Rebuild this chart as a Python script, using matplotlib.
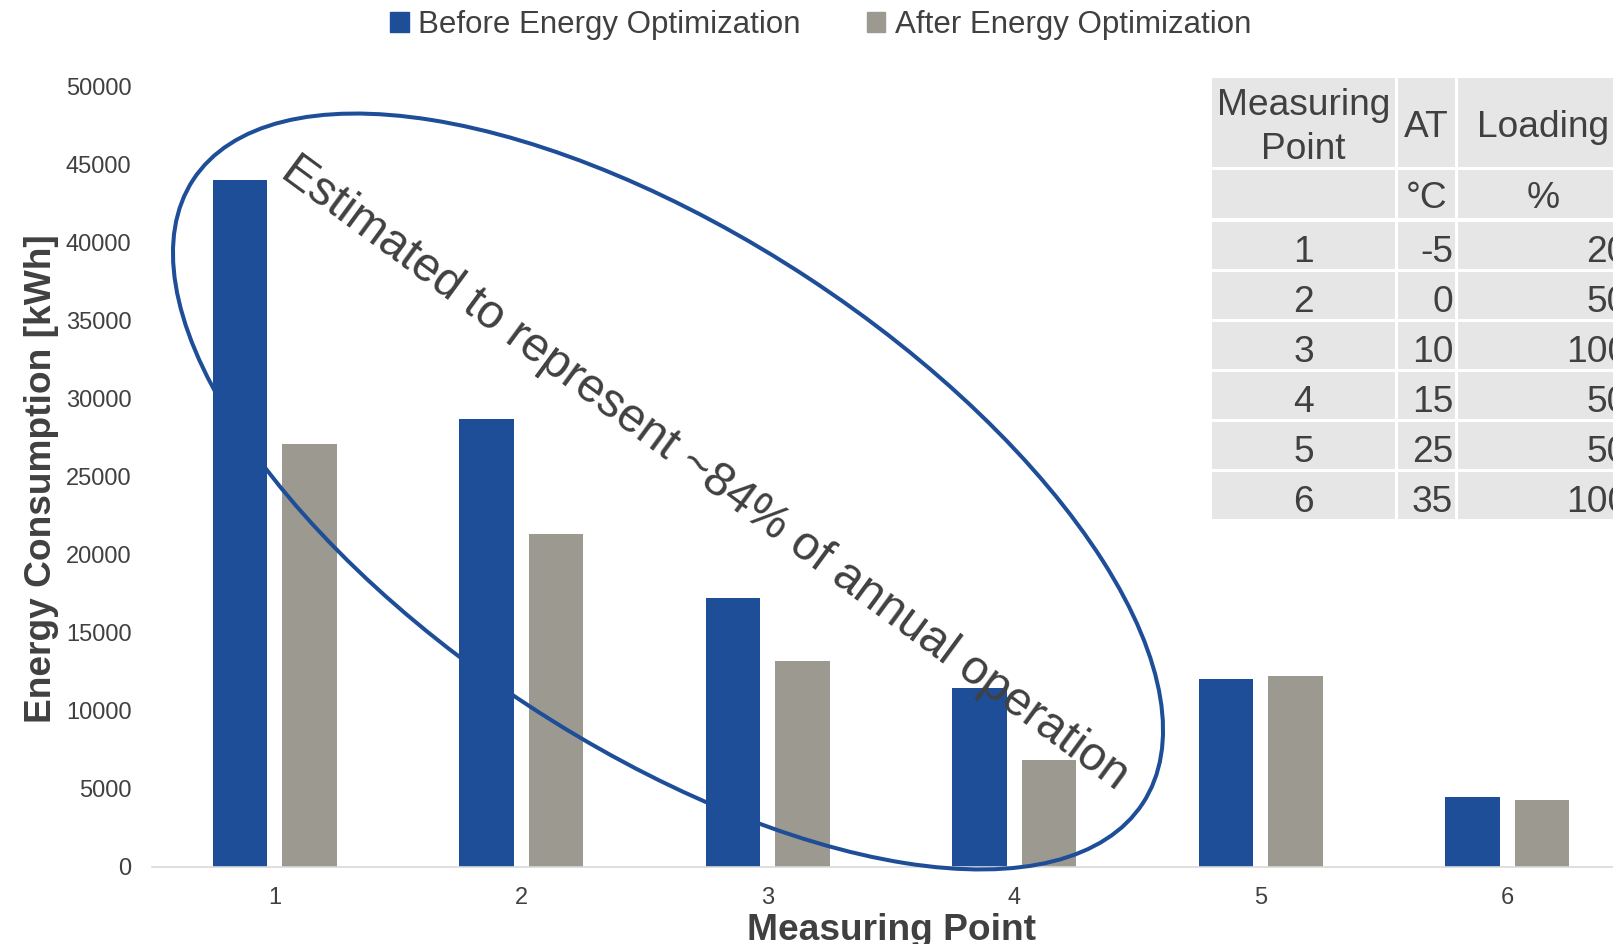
import numpy as np
import matplotlib
matplotlib.use("Agg")
import matplotlib.pyplot as plt
from matplotlib.patches import Ellipse, Rectangle, Patch
from matplotlib.transforms import IdentityTransform

# energy per measuring point [kWh]
measuring_points = [1, 2, 3, 4, 5, 6]
before_opt = [44000, 28700, 17250, 11450, 12050, 4450]
after_opt = [27100, 21300, 13200, 6850, 12200, 4270]

# operating conditions table
table_header = ["Measuring\nPoint", "AT", "Loading"]
table_units = ["", "°C", "%"]
ambient_temp = [-5, 0, 10, 15, 25, 35]
loading_pct = [20, 50, 100, 50, 50, 100]

BLUE = "#1F4E99"
GREY = "#9C9990"
TEXT = "#404040"
CELL = "#E6E6E6"

W, H = 1613, 944

plt.rcParams['font.family'] = ['Liberation Sans', 'DejaVu Sans']


def px(x, y):
    # pixel position (from top-left) -> figure fraction
    return x / W, 1 - y / H


def draw_table(fig):
    col_edges = [(1212, 1395), (1398.3, 1455), (1458, 1640)]
    row_edges = [(78.3, 166.7), (170, 218.3)]
    for i in range(len(measuring_points)):
        top = 221.7 + 50 * i
        row_edges.append((top, top + 47.3))

    for (x0, x1) in col_edges:
        for (y0, y1) in row_edges:
            fx, fy = px(x0, y1)
            fig.add_artist(Rectangle((fx, fy), (x1 - x0) / W, (y1 - y0) / H,
                                     transform=fig.transFigure, color=CELL,
                                     lw=0, zorder=1))

    kw = dict(fontsize=26.7, color=TEXT, va='baseline', zorder=2)
    fig.text(*px(1303.5, 115), "Measuring", ha='center', **kw)
    fig.text(*px(1303.5, 159.3), "Point", ha='center', **kw)
    fig.text(*px(1426.7, 136.7), table_header[1], ha='center', **kw)
    fig.text(*px(1543, 136.7), table_header[2], ha='center', **kw)
    fig.text(*px(1426.7, 208.3), table_units[1], ha='center', **kw)
    fig.text(*px(1543, 208.3), table_units[2], ha='center', **kw)

    for i, (mp, at, ld) in enumerate(zip(measuring_points, ambient_temp, loading_pct)):
        yb = 262.3 + 50 * i
        fig.text(*px(1303.5, yb), str(mp), ha='center', **kw)
        fig.text(*px(1453.3, yb), str(at), ha='right', **kw)
        fig.text(*px(1628, yb), str(ld), ha='right', **kw)


fig = plt.figure(figsize=(W / 100, H / 100), dpi=100)
ax = fig.add_axes([151.5 / W, 77.5 / H, 1 - 151.5 / W, 779.7 / H])

x = np.array(measuring_points)
bar_w = 0.223
offset = 0.141
ax.bar(x - offset, before_opt, bar_w, color=BLUE, zorder=2)
ax.bar(x + offset, after_opt, bar_w, color=GREY, zorder=2)

ax.set_xlim(0.5, 0.5 + (W - 151.5) / 246.5)
ax.set_ylim(0, 50000)
ax.set_xticks(measuring_points)
ax.set_yticks(np.arange(0, 50001, 5000))

for side in ["top", "right", "left"]:
    ax.spines[side].set_visible(False)
ax.spines["bottom"].set_color("#D9D9D9")
ax.spines["bottom"].set_linewidth(1.2)

ax.tick_params(axis='both', length=0, labelsize=17, labelcolor=TEXT)
ax.tick_params(axis='y', pad=14.4)
ax.tick_params(axis='x', pad=14.8)

ax.set_xlabel("Measuring Point", fontweight="bold", fontsize=26.7, color=TEXT, va='top')
ax.xaxis.set_label_coords(0.506, -0.060)
ax.set_ylabel("Energy Consumption [kWh]", fontweight="bold", fontsize=26.7, color=TEXT)
ax.yaxis.set_label_coords(-0.0632, 0.498)

# legend along the top
handles = [Patch(color=BLUE), Patch(color=GREY)]
fig.legend(handles, ["Before Energy Optimization", "After Energy Optimization"],
           loc='upper center', bbox_to_anchor=(820.5 / W, 1.019), ncol=2,
           frameon=False, fontsize=22.5, labelcolor=TEXT,
           handlelength=0.6, handleheight=0.6, handletextpad=0.3,
           columnspacing=2.12)

# ellipse around the dominant operating points
ell = Ellipse((668, H - 491.5), 1136, 511, angle=-33.3, transform=IdentityTransform(),
              fill=False, edgecolor=BLUE, lw=2.9, zorder=5)
fig.add_artist(ell)

fig.text(*px(278.7, 176.1), "Estimated to represent ~84% of annual operation",
         fontsize=34.4, color=TEXT, rotation=-36.3, rotation_mode='anchor',
         ha='left', va='baseline', zorder=6)

draw_table(fig)

fig.savefig("out.png", dpi=100)
